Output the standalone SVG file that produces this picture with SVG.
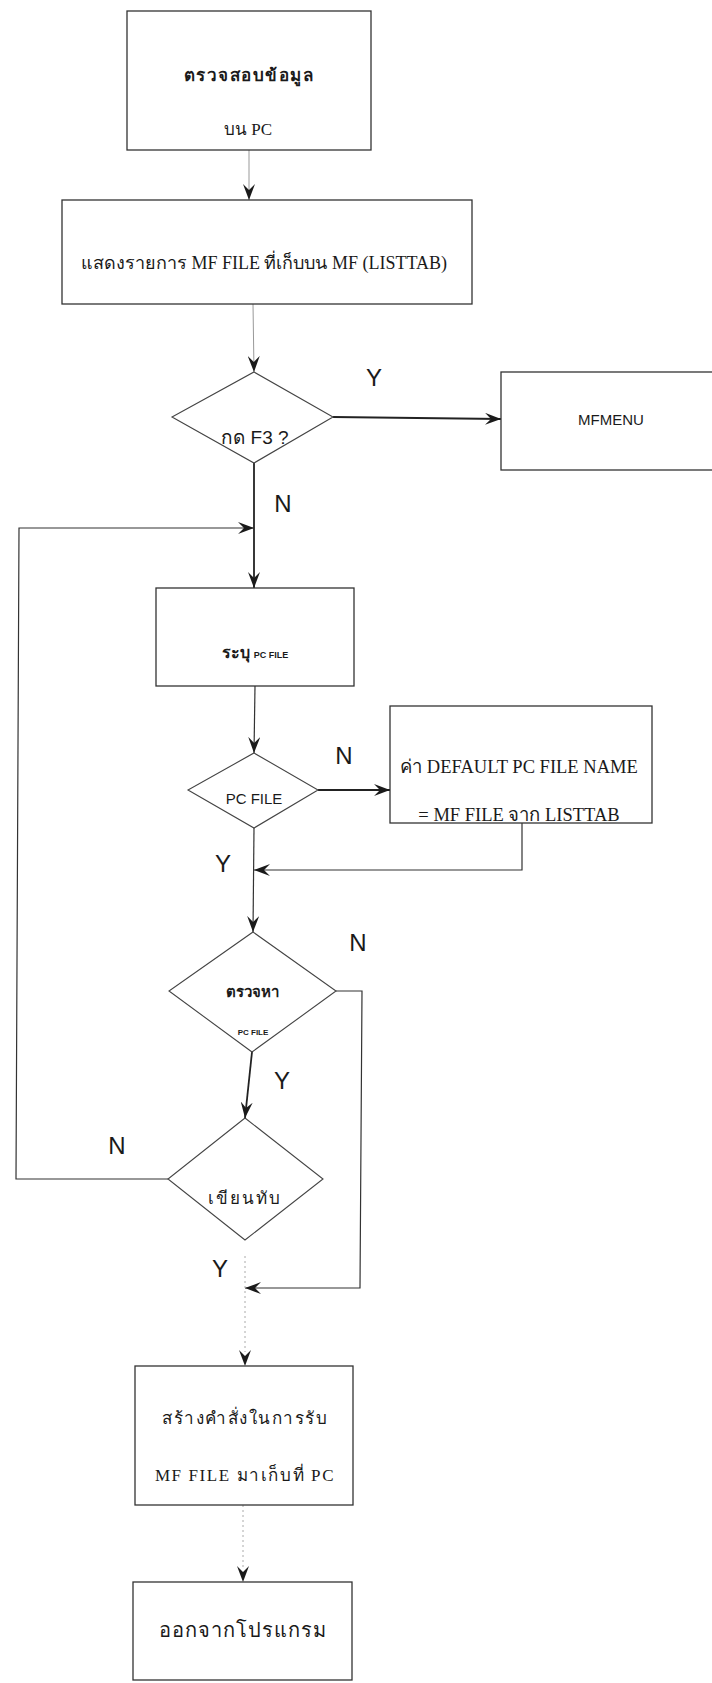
<svg xmlns="http://www.w3.org/2000/svg" width="712" height="1683" viewBox="0 0 712 1683">
  <defs>
    <style>
      .box { fill: #ffffff; stroke: #333333; stroke-width: 1.3; }
      .dec { fill: #ffffff; stroke: #444444; stroke-width: 1.1; }
      .edge { fill: none; stroke: #333333; stroke-width: 1.2; }
      .edge-bold { fill: none; stroke: #222222; stroke-width: 1.8; }
      .edge-faint { fill: none; stroke: #999999; stroke-width: 1; }
      .edge-dot { fill: none; stroke: #aaaaaa; stroke-width: 1; stroke-dasharray: 2 3; }
      .th { font-family: "Liberation Serif", "Noto Sans CJK SC", serif; fill: #1a1a1a; text-anchor: middle; }
      .sans { font-family: "Liberation Sans", Arial, sans-serif; fill: #1a1a1a; text-anchor: middle; }
      .lbl { font-family: "Liberation Sans", Arial, sans-serif; font-size: 24px; fill: #1a1a1a; text-anchor: middle; }
    </style>
    <marker id="arrow" viewBox="0 0 16 12" refX="16" refY="6" markerWidth="16" markerHeight="12" markerUnits="userSpaceOnUse" orient="auto">
      <path d="M0,0 L16,6 L0,12 L6,6 Z" fill="#1a1a1a"/>
    </marker>
  </defs>

  <rect x="0" y="0" width="712" height="1683" fill="#ffffff"/>

  <!-- connectors -->
  <g id="connectors">
    <line class="edge-faint" x1="249" y1="150" x2="249" y2="200" marker-end="url(#arrow)"/>
    <line class="edge-faint" x1="253" y1="304" x2="254" y2="372" marker-end="url(#arrow)"/>
    <line class="edge-bold" x1="333" y1="417" x2="501" y2="419" marker-end="url(#arrow)"/>
    <line class="edge-bold" x1="254" y1="463" x2="254" y2="588" marker-end="url(#arrow)"/>
    <polyline class="edge" points="168,1179 16,1179 19,528 254,528" marker-end="url(#arrow)"/>
    <line class="edge" x1="255" y1="686" x2="254" y2="753" marker-end="url(#arrow)"/>
    <line class="edge-bold" x1="318" y1="790" x2="390" y2="790" marker-end="url(#arrow)"/>
    <polyline class="edge" points="522,823 522,870 254,870" marker-end="url(#arrow)"/>
    <line class="edge" x1="254" y1="828" x2="253" y2="932" marker-end="url(#arrow)"/>
    <polyline class="edge" points="336,991 362,991 360,1288 245,1288" marker-end="url(#arrow)"/>
    <line class="edge-bold" x1="252" y1="1052" x2="245" y2="1118" marker-end="url(#arrow)"/>
    <line class="edge-dot" x1="245" y1="1256" x2="245" y2="1352"/>
    <line class="edge-dot" x1="243" y1="1505" x2="243" y2="1568"/>
    <line x1="245" y1="1346" x2="245" y2="1366" stroke="none" marker-end="url(#arrow)"/>
    <line x1="243" y1="1562" x2="243" y2="1582" stroke="none" marker-end="url(#arrow)"/>
  </g>

  <!-- start: check data on PC -->
  <g id="check-pc">
    <rect class="box" x="127" y="11" width="244" height="139"/>
    <text class="th" x="249" y="81" font-size="17" font-weight="bold" letter-spacing="1.5">ตรวจสอบข้อมูล</text>
    <text class="th" x="248" y="135" font-size="17">บน PC</text>
  </g>

  <g id="list-mf">
    <rect class="box" x="62" y="200" width="410" height="104"/>
    <text class="th" x="264" y="269" font-size="18">แสดงรายการ MF FILE ที่เก็บบน MF (LISTTAB)</text>
  </g>

  <g id="press-f3">
    <polygon class="dec" points="254,372 333,417 254,463 172,417"/>
    <text class="sans" x="255" y="444" font-size="19">กด F3 ?</text>
  </g>

  <g id="mfmenu">
    <rect class="box" x="501" y="372" width="230" height="98"/>
    <text class="sans" x="611" y="425" font-size="15">MFMENU</text>
  </g>

  <g id="enter-pc-file">
    <rect class="box" x="156" y="588" width="198" height="98"/>
    <text class="th" x="255" y="658" font-size="16" font-weight="bold">ระบุ <tspan font-size="9" font-family="Liberation Sans, sans-serif">PC FILE</tspan></text>
  </g>

  <g id="pc-file">
    <polygon class="dec" points="254,753 318,790 254,828 188,790"/>
    <text class="sans" x="254" y="804" font-size="15">PC FILE</text>
  </g>

  <g id="default-name">
    <rect class="box" x="390" y="706" width="262" height="117"/>
    <text class="th" x="519" y="773" font-size="18.5">ค่า DEFAULT PC FILE NAME</text>
    <text class="th" x="519" y="821" font-size="18.5">= MF FILE จาก LISTTAB</text>
  </g>

  <g id="find-pc-file">
    <polygon class="dec" points="253,932 336,991 252,1052 169,991"/>
    <text class="th" x="252" y="997" font-size="15" font-weight="bold">ตรวจหา</text>
    <text class="sans" x="253" y="1035" font-size="8" font-weight="bold">PC FILE</text>
  </g>

  <g id="overwrite">
    <polygon class="dec" points="245,1118 323,1179 245,1240 168,1179"/>
    <text class="th" x="245" y="1204" font-size="17" letter-spacing="2">เขียนทับ</text>
  </g>

  <g id="build-command">
    <rect class="box" x="135" y="1366" width="218" height="139"/>
    <text class="th" x="245" y="1424" font-size="17" letter-spacing="1.5">สร้างคำสั่งในการรับ</text>
    <text class="th" x="245" y="1481" font-size="17" letter-spacing="1.6">MF FILE มาเก็บที่ PC</text>
  </g>

  <g id="exit">
    <rect class="box" x="133" y="1582" width="219" height="98"/>
    <text class="th" x="243" y="1637" font-size="20" letter-spacing="1">ออกจากโปรแกรม</text>
  </g>

  <!-- branch labels -->
  <g id="labels">
    <text class="lbl" x="374" y="386">Y</text>
    <text class="lbl" x="283" y="512">N</text>
    <text class="lbl" x="344" y="764">N</text>
    <text class="lbl" x="223" y="872">Y</text>
    <text class="lbl" x="358" y="951">N</text>
    <text class="lbl" x="282" y="1089">Y</text>
    <text class="lbl" x="117" y="1154">N</text>
    <text class="lbl" x="220" y="1277">Y</text>
  </g>
</svg>
